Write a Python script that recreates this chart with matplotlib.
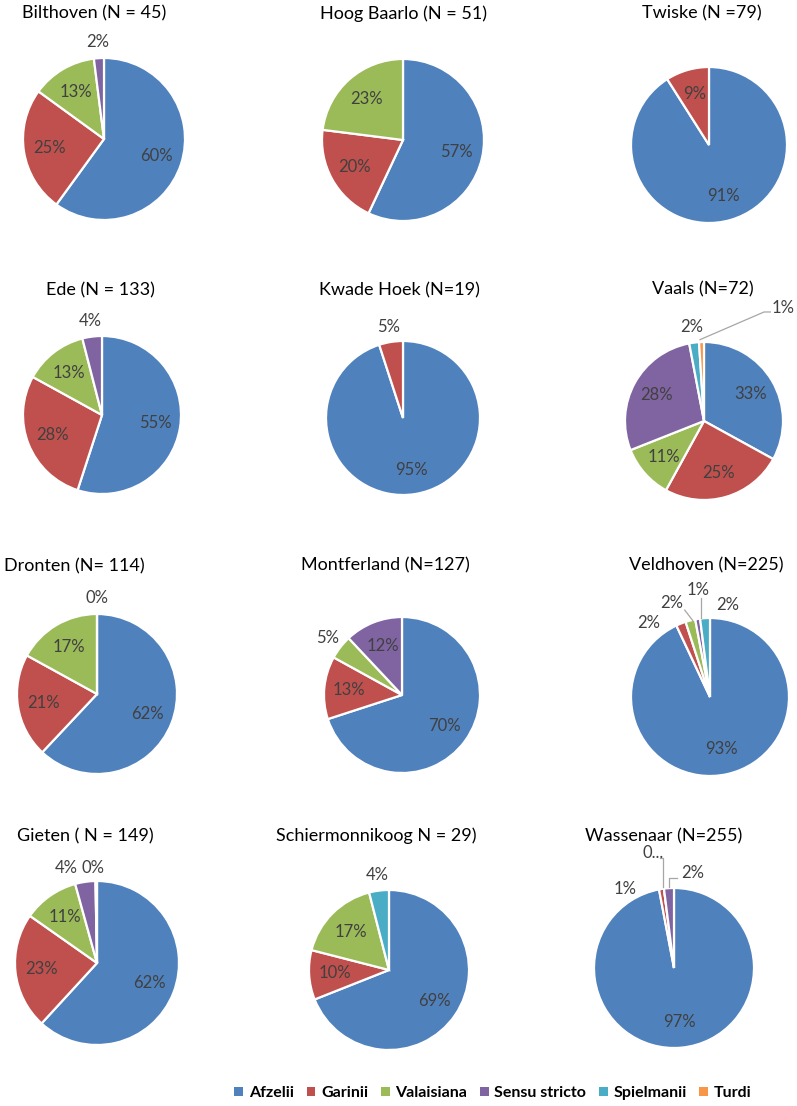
import matplotlib
matplotlib.use('Agg')
import matplotlib.pyplot as plt
from matplotlib.patches import Patch
import numpy as np

plt.rcParams['font.family'] = ['Lato', 'DejaVu Sans']

W, H = 797, 1106

# ---------------- data ----------------
categories = ['Afzelii', 'Garinii', 'Valaisiana', 'Sensu stricto', 'Spielmanii', 'Turdi']
colors = ['#4F81BD', '#C0504D', '#9BBB59', '#8064A2', '#4BACC6', '#F79646']

titles = ['Bilthoven (N = 45)', 'Hoog Baarlo (N = 51)', 'Twiske (N =79)',
          'Ede (N = 133)', 'Kwade Hoek (N=19)', 'Vaals (N=72)',
          'Dronten (N= 114)', 'Montferland (N=127)', 'Veldhoven (N=225)',
          'Gieten ( N = 149)', 'Schiermonnikoog N = 29)', 'Wassenaar (N=255)']

# percentages per category (None = category absent from the chart)
bilthoven       = [60, 25, 13, 2, None, None]
hoog_baarlo     = [57, 20, 23, None, None, None]
twiske          = [91, 9, None, None, None, None]
ede             = [55, 28, 13, 4, None, None]
kwade_hoek      = [95, 5, None, None, None, None]
vaals           = [33, 25, 11, 28, 2, 1]
dronten         = [62, 21, 17, 0, None, None]
montferland     = [70, 13, 5, 12, None, None]
veldhoven       = [93, 2, 2, 1, 2, None]
gieten          = [62, 23, 11, 4, 0.3, None]
schiermonnikoog = [69, 10, 17, None, 4, None]
wassenaar       = [97, 1, 0, 2, None, None]

sites = [bilthoven, hoog_baarlo, twiske, ede, kwade_hoek, vaals,
         dronten, montferland, veldhoven, gieten, schiermonnikoog, wassenaar]

# label text overrides (truncated label in original)
label_text = {(11, 2): '0...'}

# ---------------- layout (pixels) ----------------
pie_box = [(104, 139, 81), (403, 140, 81), (709, 145, 78),
           (102, 415, 79), (403, 418, 77), (704, 421, 79),
           (97, 694, 80), (402, 695, 78), (710, 697, 79),
           (97, 963, 82), (389, 970, 80), (674, 968, 80)]
title_pos = [(94, 13), (403, 14), (702, 13),
             (100, 290), (399, 290), (703, 289),
             (74, 566), (385, 565), (706, 565),
             (85, 836), (376, 836), (664, 836)]

# explicit label positions (units of radius) and leader lines for crowded slices
label_pos = {
    (5, 5): (0.86, 1.43, 'left'),
    (8, 1): (-0.78, 0.94, 'center'),
    (8, 2): (-0.48, 1.19, 'center'),
    (8, 3): (-0.15, 1.35, 'center'),
    (8, 4): (0.22, 1.16, 'center'),
    (9, 3): (-0.37, 1.16, 'center'),
    (9, 4): (-0.05, 1.16, 'center'),
    (11, 1): (-0.61, 0.99, 'center'),
    (11, 2): (-0.26, 1.44, 'center'),
    (11, 3): (0.23, 1.19, 'center'),
}
leaders = {
    (5, 5): [(-0.05, 1.03), (0.76, 1.38), (0.84, 1.38)],
    (8, 2): [(-0.22, 0.97), (-0.32, 1.10)],
    (8, 3): [(-0.11, 1.0), (-0.11, 1.25)],
    (11, 2): [(-0.14, 1.01), (-0.14, 1.375), (-0.175, 1.375)],
    (11, 3): [(-0.06, 1.01), (-0.06, 1.125), (0.04, 1.125)],
}

fig = plt.figure(figsize=(W / 100, H / 100), dpi=100)
fig.patch.set_facecolor('white')

label_color = '#404040'

for i, vals in enumerate(sites):
    cx, cy, r = pie_box[i]
    ax = fig.add_axes([(cx - r) / W, 1 - (cy + r) / H, 2 * r / W, 2 * r / H])
    idx = [k for k, v in enumerate(vals) if v is not None]
    v = [vals[k] for k in idx]
    c = [colors[k] for k in idx]
    wedges, _ = ax.pie(v, colors=c, startangle=90, counterclock=False, radius=1,
                       wedgeprops=dict(edgecolor='white', linewidth=1.6))
    ax.set_xlim(-1, 1)
    ax.set_ylim(-1, 1)
    ax.axis('off')
    for w, k, val in zip(wedges, idx, v):
        txt = label_text.get((i, k), f'{val:.0f}%')
        if (i, k) in label_pos:
            x, y, ha = label_pos[(i, k)]
        else:
            mid = np.deg2rad((w.theta1 + w.theta2) / 2)
            d = 0.68 if val >= 6 else 1.2
            x, y, ha = d * np.cos(mid), d * np.sin(mid), 'center'
        ax.text(x, y, txt, ha=ha, va='center', fontsize=12, color=label_color,
                clip_on=False)
        if (i, k) in leaders:
            pts = np.array(leaders[(i, k)])
            ax.plot(pts[:, 0], pts[:, 1], color='#A6A6A6', lw=0.9, clip_on=False)
    tx, ty = title_pos[i]
    fig.text(tx / W, 1 - ty / H, titles[i], ha='center', va='center', fontsize=13,
             color='black')

handles = [Patch(facecolor=col, edgecolor='none', label=cat)
           for cat, col in zip(categories, colors)]
fig.legend(handles=handles, loc='center', bbox_to_anchor=(493 / W, 1 - 1093 / H), ncol=6,
           frameon=False, handlelength=0.55, handleheight=0.55, handletextpad=0.35,
           columnspacing=0.8, prop={'size': 11.5, 'weight': 'bold'})

fig.savefig('out.png', dpi=100, facecolor='white')
